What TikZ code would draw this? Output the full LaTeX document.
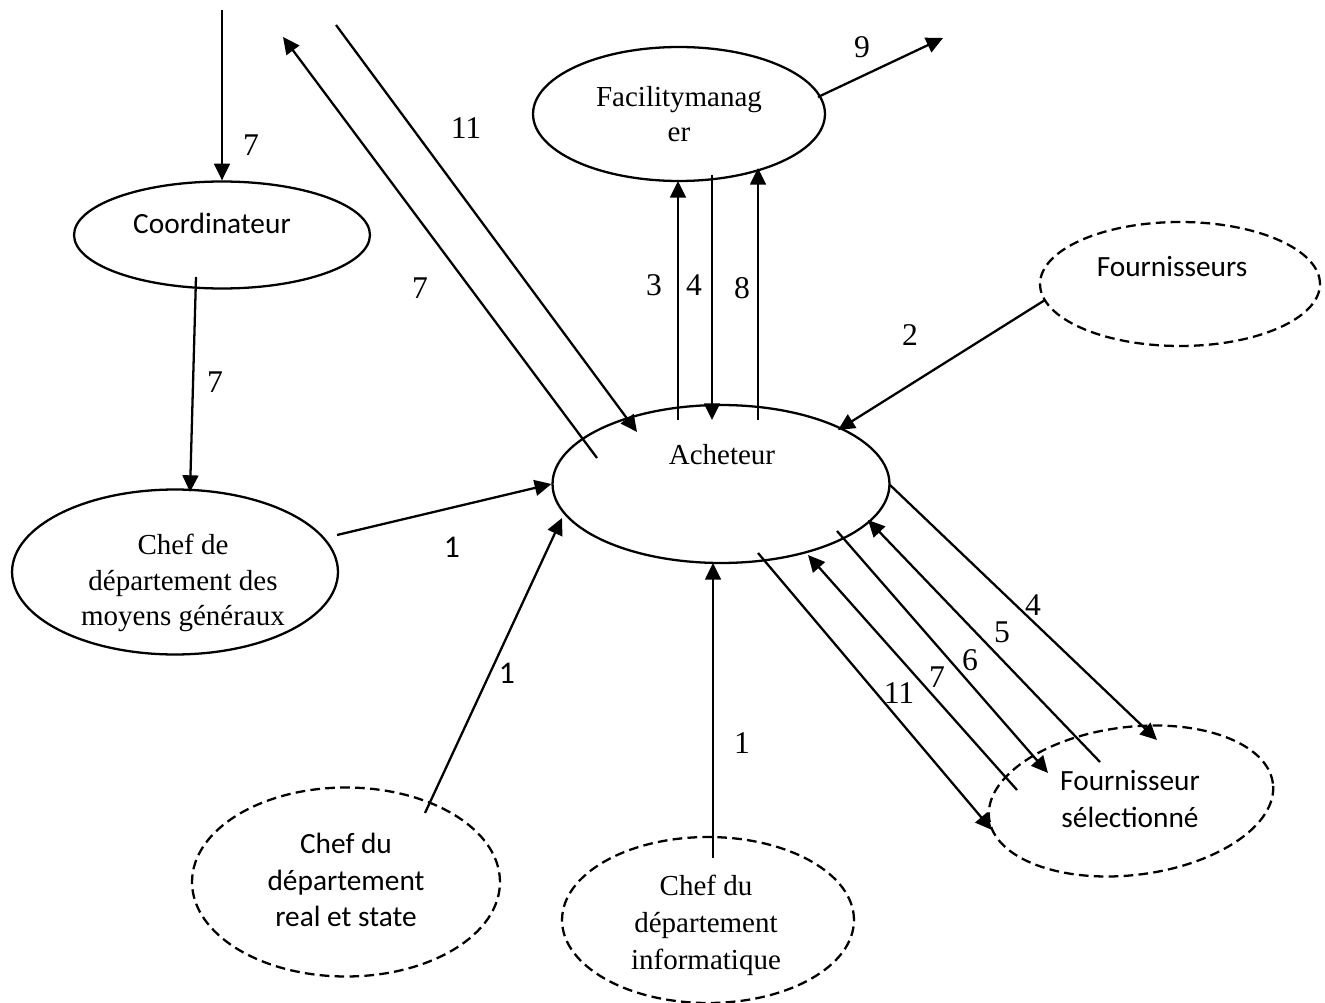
\documentclass[tikz,border=0pt]{standalone}
\usepackage{fontspec}
\setmainfont{Liberation Serif}
\newfontfamily\cali{Carlito}
\usetikzlibrary{arrows.meta,shapes.geometric}
\tikzset{pin/.style={line width=1.3pt, -{Triangle[length=9.5pt, width=9pt]}},
  ell/.style={draw, ellipse, line width=1.3pt, inner sep=0pt, align=center, font=\fontsize{16.5}{19.5}\selectfont},
  ext/.style={ell, dash pattern=on 5.5pt off 3pt},
  txt/.style={inner sep=0pt, align=center, font=\fontsize{16.5}{20}\selectfont},
  stxt/.style={inner sep=0pt, align=center, font=\cali\fontsize{16.7}{21}\selectfont},
  num/.style={inner sep=0pt, font=\fontsize{18}{20}\selectfont},
  snum/.style={inner sep=0pt, font=\cali\fontsize{18}{20}\selectfont}}

\begin{document}
\begin{tikzpicture}[x=0.02cm, y=-0.02cm]
  \useasboundingbox (0,0) rectangle (1325,1003);
  % actors
  \node[ell, minimum width=5.92cm, minimum height=2.14cm] (cor) at (222,235) {};
  \node[stxt] (cortxt) at (212,223) {Coordinateur};
  \node[ell, minimum width=5.84cm, minimum height=2.68cm] (fac) at (679,114) {Facilitymanag\\er};
  \node[ext, minimum width=5.6cm, minimum height=2.48cm] (frs) at (1180,284) {};
  \node[stxt] (frstxt) at (1172,267) {Fournisseurs};
  \node[ell, minimum width=6.74cm, minimum height=3.16cm] (ach) at (721,484) {};
  \node[txt] (achtxt) at (722,455) {Acheteur};
  \node[ell, minimum width=6.52cm, minimum height=3.3cm] (chef) at (175,572) {};
  \node[txt] (cheftxt) at (183,583) {Chef de\\département des\\moyens généraux};
  \node[ext, minimum width=6.16cm, minimum height=3.78cm] (res) at (346,882) {};
  \node[stxt] (restxt) at (346,880) {Chef du\\département\\real et state};
  \node[ext, minimum width=5.84cm, minimum height=3.32cm] (inf) at (708,920) {};
  \node[txt, font=\fontsize{16.5}{21}\selectfont] (inftxt) at (706,925) {Chef du\\département\\informatique};
  \node[ext, minimum width=5.72cm, minimum height=2.96cm, rotate=7] (sel) at (1131,801) {};
  \node[stxt] (seltxt) at (1130,799) {Fournisseur\\sélectionné};
  % free ends
  \coordinate (topin) at (222,10);
  \coordinate (outa) at (283,37);
  \coordinate (outb) at (336,25);
  \coordinate (outc) at (943,38);
  % ends on the ellipses
  \coordinate (a2s) at (597,458);
  \coordinate (a3e) at (637,432);
  \coordinate (a4s) at (196,277);
  \coordinate (a4e) at (190,492);
  \coordinate (a5s) at (337,535);
  \coordinate (a6s) at (425,813);
  \coordinate (a6e) at (562,518);
  \coordinate (a7s) at (713,858);
  \coordinate (a7e) at (713,563);
  \coordinate (f3s) at (678,420);
  \coordinate (f3e) at (678,181);
  \coordinate (f4s) at (712,175);
  \coordinate (f4e) at (712,420);
  \coordinate (f8s) at (758,420);
  \coordinate (f8e) at (758,168);
  \coordinate (f9s) at (818,97);
  \coordinate (frss) at (1045,300);
  \coordinate (frse) at (838,430);
  \coordinate (s4s) at (890,485);
  \coordinate (s4e) at (1157,740);
  \coordinate (s5s) at (1100,762);
  \coordinate (s5e) at (868,520);
  \coordinate (s6s) at (837,531);
  \coordinate (s6e) at (1048,773);
  \coordinate (s7s) at (1017,790);
  \coordinate (s7e) at (808,555);
  \coordinate (s11s) at (758,553);
  \coordinate (s11e) at (992,830);
  % flows
  \draw[pin] (topin) -- (cor.north);
  \node[num] (l7a) at (251,145) {7};
  \draw[pin] (a2s) -- (outa);
  \node[num] (l7b) at (420,288) {7};
  \draw[pin] (outb) -- (a3e);
  \node[num] (l11a) at (466,128) {11};
  \draw[pin] (a4s) -- (a4e);
  \node[num] (l7c) at (215,382) {7};
  \draw[pin] (a5s) -- (ach.west);
  \node[snum] (l1a) at (452,547) {1};
  \draw[pin] (a6s) -- (a6e);
  \node[snum] (l1b) at (507,673) {1};
  \draw[pin] (a7s) -- (a7e);
  \node[num] (l1c) at (742,743) {1};
  % acheteur - facility manager
  \draw[pin] (f3s) -- (f3e);
  \draw[pin] (f4s) -- (f4e);
  \draw[pin] (f8s) -- (f8e);
  \node[num] (l3) at (654,285) {3};
  \node[num] (l4a) at (694,285) {4};
  \node[num] (l8) at (742,288) {8};
  \draw[pin] (f9s) -- (outc);
  \node[num] (l9) at (862,47) {9};
  \draw[pin] (frss) -- (frse);
  \node[num] (l2) at (910,335) {2};
  % acheteur - fournisseur selectionne
  \draw[pin] (s4s) -- (s4e);
  \draw[pin] (s5s) -- (s5e);
  \draw[pin] (s6s) -- (s6e);
  \draw[pin] (s7s) -- (s7e);
  \draw[pin] (s11s) -- (s11e);
  \node[num] (l4b) at (1033,605) {4};
  \node[num] (l5) at (1002,632) {5};
  \node[num] (l6) at (970,660) {6};
  \node[num] (l7d) at (937,677) {7};
  \node[num] (l11b) at (899,693) {11};
\end{tikzpicture}
\end{document}
